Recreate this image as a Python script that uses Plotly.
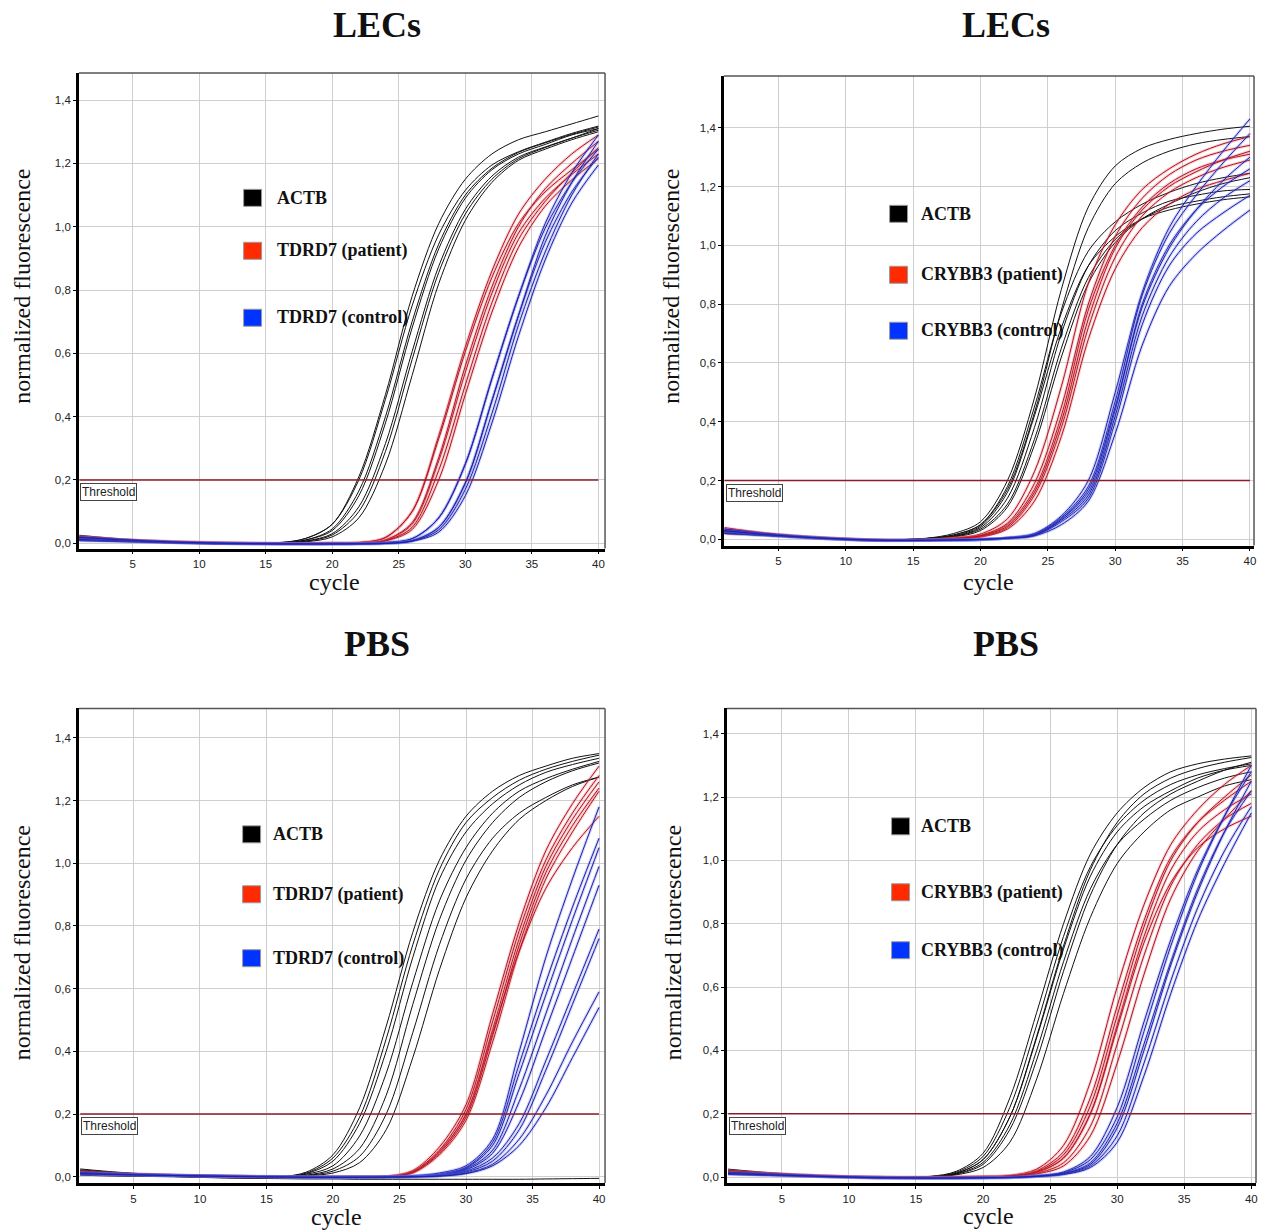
import plotly.graph_objects as go

W, H = 1263, 1232

# ---------------- data ----------------
CYCLES = [1, 4, 8, 12, 16, 18, 20, 22, 24, 26, 28, 30, 32, 34, 36, 38, 40]
X_TICKS = [5, 10, 15, 20, 25, 30, 35, 40]
Y_TICKS = [0.0, 0.2, 0.4, 0.6, 0.8, 1.0, 1.2, 1.4]
Y_TICK_LABELS = ["0,0", "0,2", "0,4", "0,6", "0,8", "1,0", "1,2", "1,4"]
THRESHOLD = 0.2

# Panel 1 : LECs, TDRD7
P1_ACTB = [
    [0.020, 0.012, 0.004, 0.000, 0.002, 0.015, 0.060, 0.210, 0.470, 0.780, 1.010, 1.150, 1.230, 1.275, 1.300, 1.325, 1.350],
    [0.012, 0.008, 0.002, -0.002, 0.001, 0.015, 0.060, 0.200, 0.455, 0.750, 0.975, 1.115, 1.195, 1.237, 1.267, 1.295, 1.318],
    [0.025, 0.014, 0.005, 0.000, 0.000, 0.010, 0.040, 0.150, 0.380, 0.680, 0.930, 1.090, 1.180, 1.230, 1.260, 1.290, 1.310],
    [0.015, 0.010, 0.003, -0.001, 0.000, 0.010, 0.045, 0.165, 0.400, 0.700, 0.945, 1.100, 1.185, 1.235, 1.265, 1.292, 1.315],
    [0.010, 0.006, 0.001, -0.003, -0.001, 0.007, 0.030, 0.115, 0.315, 0.605, 0.875, 1.055, 1.160, 1.220, 1.252, 1.280, 1.305],
    [0.018, 0.010, 0.003, -0.002, -0.002, 0.004, 0.020, 0.080, 0.250, 0.530, 0.820, 1.020, 1.140, 1.210, 1.245, 1.275, 1.300],
    [0.014, 0.008, 0.002, -0.002, -0.001, 0.006, 0.026, 0.100, 0.290, 0.580, 0.855, 1.040, 1.150, 1.215, 1.250, 1.280, 1.310],
]
P1_PATIENT = [
    [0.022, 0.012, 0.005, 0.001, 0.000, 0.000, 0.001, 0.002, 0.018, 0.100, 0.340, 0.620, 0.860, 1.040, 1.150, 1.230, 1.290],
    [0.015, 0.010, 0.004, 0.000, -0.001, -0.001, 0.000, 0.002, 0.018, 0.100, 0.330, 0.605, 0.840, 1.010, 1.110, 1.180, 1.245],
    [0.018, 0.011, 0.005, 0.001, -0.001, -0.001, 0.000, 0.000, 0.010, 0.060, 0.260, 0.540, 0.790, 0.980, 1.090, 1.165, 1.230],
    [0.012, 0.008, 0.003, 0.000, -0.002, -0.002, -0.001, 0.000, 0.010, 0.065, 0.270, 0.560, 0.810, 1.000, 1.120, 1.200, 1.270],
    [0.010, 0.007, 0.002, -0.001, -0.002, -0.002, -0.001, -0.001, 0.007, 0.043, 0.200, 0.470, 0.730, 0.935, 1.065, 1.148, 1.215],
    [0.020, 0.012, 0.005, 0.001, 0.000, -0.001, 0.000, 0.000, 0.008, 0.050, 0.230, 0.500, 0.760, 0.960, 1.080, 1.170, 1.250],
]
P1_CONTROL = [
    [0.010, 0.007, 0.002, -0.001, -0.002, -0.002, -0.002, -0.001, 0.002, 0.014, 0.080, 0.250, 0.520, 0.780, 1.010, 1.170, 1.290],
    [0.015, 0.010, 0.003, 0.000, -0.002, -0.002, -0.002, -0.001, 0.002, 0.014, 0.080, 0.250, 0.520, 0.780, 0.995, 1.140, 1.245],
    [0.020, 0.012, 0.004, 0.000, -0.001, -0.002, -0.002, -0.002, 0.000, 0.008, 0.050, 0.190, 0.450, 0.720, 0.950, 1.110, 1.220],
    [0.008, 0.005, 0.001, -0.002, -0.003, -0.003, -0.003, -0.002, 0.000, 0.008, 0.050, 0.190, 0.450, 0.720, 0.970, 1.140, 1.270],
    [0.012, 0.008, 0.002, -0.001, -0.003, -0.003, -0.003, -0.002, -0.001, 0.006, 0.035, 0.150, 0.380, 0.655, 0.895, 1.075, 1.195],
    [0.018, 0.011, 0.004, 0.000, -0.002, -0.002, -0.002, -0.002, -0.001, 0.007, 0.042, 0.170, 0.410, 0.690, 0.920, 1.100, 1.230],
]

# Panel 2 : LECs, CRYBB3
P2_ACTB = [
    [0.035, 0.020, 0.006, -0.002, 0.004, 0.020, 0.060, 0.200, 0.480, 0.850, 1.130, 1.270, 1.330, 1.360, 1.380, 1.395, 1.405],
    [0.025, 0.016, 0.005, -0.003, 0.003, 0.015, 0.050, 0.170, 0.430, 0.780, 1.060, 1.210, 1.280, 1.320, 1.345, 1.360, 1.370],
    [0.030, 0.018, 0.006, -0.002, 0.003, 0.015, 0.050, 0.180, 0.450, 0.770, 0.980, 1.080, 1.140, 1.180, 1.210, 1.230, 1.245],
    [0.020, 0.014, 0.004, -0.004, 0.002, 0.010, 0.040, 0.140, 0.380, 0.700, 0.930, 1.050, 1.110, 1.150, 1.170, 1.185, 1.190],
    [0.028, 0.017, 0.005, -0.003, 0.001, 0.010, 0.035, 0.120, 0.340, 0.650, 0.890, 1.020, 1.090, 1.130, 1.150, 1.165, 1.175],
    [0.022, 0.014, 0.004, -0.004, 0.000, 0.008, 0.030, 0.110, 0.320, 0.620, 0.870, 1.010, 1.090, 1.140, 1.180, 1.210, 1.230],
    [0.032, 0.019, 0.006, -0.002, 0.003, 0.012, 0.045, 0.160, 0.420, 0.720, 0.930, 1.030, 1.090, 1.120, 1.140, 1.155, 1.165],
]
P2_PATIENT = [
    [0.040, 0.022, 0.007, -0.001, -0.001, 0.005, 0.018, 0.070, 0.230, 0.520, 0.870, 1.070, 1.190, 1.260, 1.310, 1.345, 1.370],
    [0.030, 0.018, 0.006, -0.002, -0.002, 0.003, 0.012, 0.050, 0.170, 0.420, 0.780, 1.000, 1.130, 1.210, 1.260, 1.290, 1.310],
    [0.020, 0.014, 0.004, -0.003, -0.003, 0.001, 0.008, 0.035, 0.130, 0.350, 0.680, 0.920, 1.060, 1.140, 1.190, 1.220, 1.245],
    [0.035, 0.020, 0.006, -0.001, -0.002, 0.004, 0.014, 0.055, 0.190, 0.450, 0.800, 1.030, 1.160, 1.240, 1.290, 1.320, 1.340],
    [0.025, 0.016, 0.005, -0.002, -0.003, 0.002, 0.010, 0.040, 0.150, 0.380, 0.720, 0.960, 1.100, 1.180, 1.230, 1.265, 1.290],
    [0.030, 0.017, 0.005, -0.002, -0.002, 0.003, 0.012, 0.045, 0.160, 0.400, 0.750, 0.990, 1.120, 1.200, 1.250, 1.290, 1.320],
]
P2_CONTROL = [
    [0.025, 0.015, 0.004, -0.003, -0.003, -0.002, 0.000, 0.006, 0.020, 0.080, 0.200, 0.500, 0.840, 1.060, 1.200, 1.320, 1.430],
    [0.030, 0.018, 0.005, -0.002, -0.003, -0.002, 0.000, 0.005, 0.015, 0.070, 0.160, 0.440, 0.800, 1.000, 1.120, 1.200, 1.260],
    [0.020, 0.013, 0.003, -0.004, -0.004, -0.003, -0.001, 0.004, 0.012, 0.050, 0.130, 0.360, 0.660, 0.860, 0.970, 1.050, 1.120],
    [0.035, 0.020, 0.006, -0.002, -0.002, -0.001, 0.000, 0.005, 0.018, 0.075, 0.180, 0.470, 0.830, 1.040, 1.170, 1.280, 1.380],
    [0.022, 0.014, 0.004, -0.003, -0.004, -0.003, -0.001, 0.004, 0.013, 0.060, 0.140, 0.400, 0.730, 0.930, 1.040, 1.110, 1.170],
    [0.028, 0.016, 0.005, -0.003, -0.003, -0.002, 0.000, 0.005, 0.016, 0.070, 0.170, 0.450, 0.790, 0.990, 1.120, 1.220, 1.300],
    [0.030, 0.017, 0.005, -0.002, -0.003, -0.002, 0.000, 0.004, 0.014, 0.065, 0.150, 0.420, 0.760, 0.960, 1.080, 1.160, 1.220],
]

# Panel 3 : PBS, TDRD7
P3_ACTB = [
    [0.020, 0.012, 0.004, 0.000, 0.000, 0.015, 0.070, 0.220, 0.480, 0.780, 1.010, 1.150, 1.230, 1.280, 1.310, 1.335, 1.350],
    [0.015, 0.010, 0.003, -0.001, -0.001, 0.010, 0.050, 0.170, 0.400, 0.700, 0.950, 1.100, 1.190, 1.250, 1.290, 1.315, 1.335],
    [0.025, 0.014, 0.005, 0.000, -0.001, 0.008, 0.035, 0.130, 0.330, 0.620, 0.880, 1.050, 1.160, 1.230, 1.270, 1.300, 1.325],
    [0.012, 0.008, 0.002, -0.002, -0.002, 0.005, 0.025, 0.090, 0.260, 0.550, 0.820, 1.010, 1.130, 1.210, 1.260, 1.295, 1.320],
    [0.018, 0.011, 0.004, -0.001, -0.002, 0.004, 0.018, 0.065, 0.200, 0.460, 0.740, 0.950, 1.080, 1.160, 1.210, 1.250, 1.275],
    [0.010, 0.006, 0.001, -0.003, -0.003, 0.003, 0.012, 0.045, 0.150, 0.380, 0.660, 0.890, 1.040, 1.140, 1.200, 1.245, 1.275],
    [0.022, 0.013, 0.004, 0.000, 0.000, 0.012, 0.060, 0.190, 0.440, 0.740, 0.980, 1.130, 1.210, 1.265, 1.300, 1.325, 1.345],
    [0.005, 0.002, 0.000, -0.004, -0.006, -0.007, -0.007, -0.008, -0.008, -0.008, -0.008, -0.008, -0.008, -0.008, -0.007, -0.006, -0.005],
]
P3_PATIENT = [
    [0.015, 0.010, 0.006, 0.003, 0.001, 0.000, 0.000, 0.000, 0.001, 0.020, 0.095, 0.230, 0.520, 0.810, 1.040, 1.190, 1.310],
    [0.012, 0.008, 0.005, 0.002, 0.000, -0.001, -0.001, 0.000, 0.000, 0.015, 0.080, 0.200, 0.470, 0.760, 0.990, 1.140, 1.260],
    [0.010, 0.007, 0.004, 0.001, -0.001, -0.002, -0.002, -0.001, 0.000, 0.012, 0.070, 0.180, 0.430, 0.720, 0.950, 1.100, 1.230],
    [0.014, 0.009, 0.005, 0.002, 0.000, -0.001, -0.001, 0.000, 0.000, 0.015, 0.080, 0.200, 0.460, 0.720, 0.920, 1.050, 1.150],
    [0.018, 0.011, 0.006, 0.003, 0.001, 0.000, 0.000, 0.000, 0.000, 0.017, 0.085, 0.215, 0.495, 0.785, 1.010, 1.160, 1.280],
    [0.011, 0.007, 0.004, 0.001, -0.001, -0.002, -0.001, -0.001, 0.000, 0.014, 0.075, 0.190, 0.450, 0.740, 0.970, 1.120, 1.240],
]
P3_CONTROL = [
    [0.012, 0.008, 0.004, 0.002, 0.000, -0.001, -0.001, -0.001, 0.000, 0.003, 0.012, 0.035, 0.120, 0.400, 0.700, 0.950, 1.180],
    [0.010, 0.007, 0.004, 0.002, 0.000, -0.001, -0.001, -0.001, 0.000, 0.002, 0.009, 0.030, 0.110, 0.360, 0.620, 0.860, 1.080],
    [0.014, 0.009, 0.005, 0.002, 0.000, -0.001, -0.001, -0.001, 0.000, 0.002, 0.007, 0.028, 0.100, 0.330, 0.580, 0.820, 1.050],
    [0.008, 0.006, 0.003, 0.001, -0.001, -0.002, -0.002, -0.001, 0.000, 0.001, 0.006, 0.025, 0.085, 0.280, 0.520, 0.760, 0.990],
    [0.011, 0.008, 0.004, 0.002, 0.000, -0.001, -0.001, -0.001, 0.000, 0.001, 0.005, 0.022, 0.075, 0.240, 0.470, 0.700, 0.930],
    [0.013, 0.009, 0.005, 0.002, 0.000, -0.001, -0.001, -0.001, -0.001, 0.000, 0.004, 0.018, 0.060, 0.170, 0.370, 0.580, 0.790],
    [0.009, 0.006, 0.003, 0.001, -0.001, -0.002, -0.002, -0.002, -0.001, 0.000, 0.003, 0.015, 0.050, 0.150, 0.340, 0.550, 0.760],
    [0.012, 0.008, 0.004, 0.002, 0.000, -0.001, -0.001, -0.001, -0.001, 0.000, 0.003, 0.012, 0.040, 0.120, 0.260, 0.430, 0.590],
    [0.010, 0.007, 0.004, 0.001, -0.001, -0.002, -0.002, -0.002, -0.001, 0.000, 0.002, 0.010, 0.035, 0.100, 0.220, 0.380, 0.540],
]

# Panel 4 : PBS, CRYBB3
P4_ACTB = [
    [0.022, 0.013, 0.004, 0.000, 0.002, 0.018, 0.075, 0.250, 0.520, 0.800, 1.020, 1.150, 1.230, 1.280, 1.305, 1.320, 1.330],
    [0.018, 0.011, 0.003, -0.001, 0.001, 0.012, 0.055, 0.190, 0.440, 0.720, 0.950, 1.090, 1.170, 1.220, 1.260, 1.285, 1.300],
    [0.015, 0.010, 0.003, -0.001, 0.000, 0.009, 0.040, 0.150, 0.370, 0.650, 0.890, 1.050, 1.150, 1.210, 1.250, 1.285, 1.310],
    [0.012, 0.008, 0.002, -0.002, 0.000, 0.007, 0.030, 0.110, 0.310, 0.580, 0.820, 0.990, 1.090, 1.160, 1.200, 1.235, 1.255],
    [0.025, 0.014, 0.004, 0.000, 0.001, 0.012, 0.055, 0.190, 0.445, 0.730, 0.970, 1.120, 1.210, 1.260, 1.290, 1.310, 1.325],
    [0.020, 0.012, 0.003, -0.001, 0.000, 0.010, 0.046, 0.165, 0.400, 0.680, 0.910, 1.050, 1.130, 1.190, 1.230, 1.260, 1.280],
    [0.016, 0.010, 0.003, -0.001, 0.001, 0.015, 0.065, 0.220, 0.480, 0.760, 0.980, 1.110, 1.190, 1.240, 1.270, 1.290, 1.305],
]
P4_PATIENT = [
    [0.020, 0.012, 0.004, 0.000, -0.001, 0.000, 0.002, 0.005, 0.025, 0.100, 0.300, 0.600, 0.860, 1.050, 1.160, 1.240, 1.300],
    [0.015, 0.010, 0.003, -0.001, -0.002, -0.001, 0.001, 0.004, 0.020, 0.080, 0.250, 0.540, 0.810, 1.010, 1.120, 1.190, 1.250],
    [0.018, 0.011, 0.004, 0.000, -0.001, -0.001, 0.001, 0.003, 0.015, 0.060, 0.200, 0.480, 0.760, 0.970, 1.090, 1.160, 1.210],
    [0.012, 0.008, 0.002, -0.002, -0.002, -0.002, 0.000, 0.002, 0.012, 0.045, 0.160, 0.420, 0.700, 0.920, 1.050, 1.130, 1.180],
    [0.010, 0.007, 0.002, -0.002, -0.003, -0.002, 0.000, 0.002, 0.010, 0.035, 0.130, 0.360, 0.640, 0.880, 1.030, 1.130, 1.220],
    [0.016, 0.010, 0.003, -0.001, -0.002, -0.001, 0.001, 0.003, 0.015, 0.060, 0.200, 0.470, 0.740, 0.930, 1.040, 1.100, 1.140],
    [0.020, 0.012, 0.004, 0.000, -0.001, 0.000, 0.001, 0.003, 0.017, 0.070, 0.225, 0.510, 0.790, 1.000, 1.120, 1.200, 1.270],
]
P4_CONTROL = [
    [0.012, 0.008, 0.002, -0.002, -0.003, -0.003, -0.002, -0.001, 0.004, 0.016, 0.065, 0.220, 0.490, 0.750, 0.970, 1.140, 1.280],
    [0.015, 0.010, 0.003, -0.001, -0.003, -0.003, -0.002, -0.001, 0.003, 0.012, 0.045, 0.170, 0.420, 0.680, 0.910, 1.090, 1.220],
    [0.010, 0.006, 0.001, -0.003, -0.004, -0.004, -0.003, -0.002, 0.002, 0.009, 0.035, 0.130, 0.360, 0.620, 0.850, 1.030, 1.170],
    [0.008, 0.005, 0.001, -0.003, -0.004, -0.004, -0.003, -0.002, 0.002, 0.008, 0.030, 0.110, 0.320, 0.580, 0.810, 0.990, 1.150],
    [0.014, 0.009, 0.003, -0.001, -0.003, -0.003, -0.002, -0.001, 0.003, 0.014, 0.055, 0.190, 0.460, 0.730, 0.960, 1.140, 1.300],
    [0.011, 0.007, 0.002, -0.002, -0.003, -0.003, -0.002, -0.001, 0.002, 0.011, 0.040, 0.155, 0.400, 0.670, 0.900, 1.090, 1.250],
]

TITLES = ["LECs", "LECs", "PBS", "PBS"]
GENES = ["TDRD7", "CRYBB3", "TDRD7", "CRYBB3"]
LEGEND_NAMES = ["ACTB", "{g} (patient)", "{g} (control)"]

# ---------------- styling / layout ----------------
LINE_COLORS = ["#111111", "#b0121e", "#1c20a6"]
HALO_COLORS = [None, "rgba(230,90,100,0.28)", "rgba(90,100,230,0.28)"]
SWATCH_COLORS = ["#000000", "#ff2a00", "#0033ff"]
THRESH_COLOR = "#8e1b2b"
SERIF = "Liberation Serif, Times New Roman, serif"
SANS = "Liberation Sans, Arial, sans-serif"

# pixel boxes (x0, y0, x1, y1) and axis ranges
BOXES = [(79, 73, 606, 549), (725, 76, 1256, 546), (79, 709, 606, 1184), (728, 709, 1258, 1184)]
XRANGES = [[0.96, 40.5], [0.95, 40.3], [0.90, 40.45], [0.90, 40.35]]
YRANGES = [[-0.017, 1.486], [-0.021, 1.576], [-0.020, 1.494], [-0.019, 1.48]]
TITLE_POS = [(378, 25), (1008, 25), (378, 645), (1008, 645)]
YLABEL_POS = [(22, 286), (672, 286), (22, 943), (674, 943)]
XLABEL_POS = [(335, 582), (990, 582), (337, 1218), (990, 1217)]
# legend swatch (left x, centre y for three rows), text start x
LEG_SWATCH = [
    (244, [198, 251, 318]),
    (891, [214, 275, 331]),
    (243, [835, 895, 959]),
    (893, [827, 893, 951]),
]
LEG_TEXT_X = [275, 920, 271, 920]

DATA = [
    (P1_ACTB, P1_PATIENT, P1_CONTROL),
    (P2_ACTB, P2_PATIENT, P2_CONTROL),
    (P3_ACTB, P3_PATIENT, P3_CONTROL),
    (P4_ACTB, P4_PATIENT, P4_CONTROL),
]


def px(x):
    return x / W


def py(y):
    return 1 - y / H


fig = go.Figure()
layout = dict(
    width=W, height=H, margin=dict(l=0, r=0, t=0, b=0),
    paper_bgcolor="white", plot_bgcolor="white", showlegend=False,
)
shapes = []
annotations = []

for i in range(4):
    n = i + 1
    xa, ya = f"x{n}", f"y{n}"
    x0, y0, x1, y1 = BOXES[i]
    layout[f"xaxis{n}"] = dict(
        domain=[px(x0), px(x1)], anchor=ya, range=XRANGES[i],
        tickmode="array", tickvals=X_TICKS, ticks="outside", ticklen=3,
        tickcolor="#000000", tickwidth=1, showgrid=True,
        gridcolor="#cfcfcf", gridwidth=1, zeroline=False,
        showline=True, linecolor="#000000", linewidth=2.5,
        tickfont=dict(family=SANS, size=11.5, color="#222222"),
    )
    layout[f"yaxis{n}"] = dict(
        domain=[py(y1), py(y0)], anchor=xa, range=YRANGES[i],
        tickmode="array", tickvals=Y_TICKS, ticktext=Y_TICK_LABELS,
        ticks="outside", ticklen=3, tickcolor="#000000", tickwidth=1,
        showgrid=True, gridcolor="#cfcfcf", gridwidth=1, zeroline=False,
        showline=True, linecolor="#000000", linewidth=2.5,
        tickfont=dict(family=SANS, size=11.5, color="#222222"),
    )
    # top / right frame edges
    shapes.append(dict(type="line", xref="paper", yref="paper", x0=px(x0), x1=px(x1),
                       y0=py(y0), y1=py(y0), line=dict(color="#555555", width=1.5)))
    shapes.append(dict(type="line", xref="paper", yref="paper", x0=px(x1), x1=px(x1),
                       y0=py(y0), y1=py(y1), line=dict(color="#555555", width=1.5)))

    # curves
    for g, group in enumerate(DATA[i]):
        for curve in group:
            if HALO_COLORS[g]:
                fig.add_trace(go.Scatter(
                    x=CYCLES, y=curve, mode="lines", xaxis=xa, yaxis=ya,
                    line=dict(color=HALO_COLORS[g], width=3, shape="spline", smoothing=0.9),
                    hoverinfo="skip"))
            fig.add_trace(go.Scatter(
                x=CYCLES, y=curve, mode="lines", xaxis=xa, yaxis=ya,
                line=dict(color=LINE_COLORS[g], width=1, shape="spline", smoothing=0.9),
                hoverinfo="skip"))

    # threshold line
    fig.add_trace(go.Scatter(
        x=[CYCLES[0], CYCLES[-1]], y=[THRESHOLD, THRESHOLD], mode="lines",
        xaxis=xa, yaxis=ya, line=dict(color=THRESH_COLOR, width=1.5), hoverinfo="skip"))
    annotations.append(dict(
        x=CYCLES[0], y=THRESHOLD, xref=xa, yref=ya, xanchor="left", yanchor="top",
        yshift=-3, xshift=1, text="Threshold", showarrow=False,
        font=dict(family=SANS, size=12, color="#222222"),
        bgcolor="white", bordercolor="#444444", borderwidth=1, borderpad=1))

    # titles / axis labels
    tx, ty = TITLE_POS[i]
    annotations.append(dict(x=px(tx), y=py(ty), xref="paper", yref="paper",
                            text=f"<b>{TITLES[i]}</b>", showarrow=False,
                            font=dict(family=SERIF, size=36, color="#111111"),
                            xanchor="center", yanchor="middle"))
    lx, ly = YLABEL_POS[i]
    annotations.append(dict(x=px(lx), y=py(ly), xref="paper", yref="paper",
                            text="normalized fluorescence", showarrow=False, textangle=-90,
                            font=dict(family=SERIF, size=24, color="#111111"),
                            xanchor="center", yanchor="middle"))
    cx, cy = XLABEL_POS[i]
    annotations.append(dict(x=px(cx), y=py(cy), xref="paper", yref="paper",
                            text="cycle", showarrow=False,
                            font=dict(family=SERIF, size=24, color="#111111"),
                            xanchor="center", yanchor="middle"))

    # legend
    sx, rows = LEG_SWATCH[i]
    for g, cyy in enumerate(rows):
        shapes.append(dict(type="rect", xref="paper", yref="paper",
                           x0=px(sx), x1=px(sx + 18), y0=py(cyy + 8.5), y1=py(cyy - 8.5),
                           fillcolor=SWATCH_COLORS[g], line=dict(color="#9a9a9a", width=1)))
        annotations.append(dict(x=px(LEG_TEXT_X[i]), y=py(cyy), xref="paper", yref="paper",
                                text="<b>" + LEGEND_NAMES[g].format(g=GENES[i]) + "</b>",
                                showarrow=False, xanchor="left", yanchor="middle",
                                font=dict(family=SERIF, size=18, color="#111111")))

layout["shapes"] = shapes
layout["annotations"] = annotations
fig.update_layout(**layout)
fig.write_html(
    "out.html",
    config={"displayModeBar": False},
    post_script="document.body.style.margin='0';document.body.style.overflow='hidden';",
)
